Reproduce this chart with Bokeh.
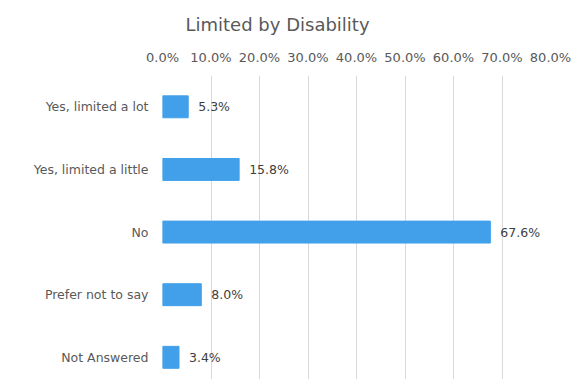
from bokeh.plotting import figure
from bokeh.models import ColumnDataSource, Range1d, NumeralTickFormatter, FixedTicker, LabelSet
from bokeh.core.properties import value
from bokeh.embed import file_html
from bokeh.resources import INLINE

categories = ["Yes, limited a lot", "Yes, limited a little", "No", "Prefer not to say", "Not Answered"]
values = [0.053, 0.158, 0.676, 0.080, 0.034]
labels = ["5.3%", "15.8%", "67.6%", "8.0%", "3.4%"]
ticks = [0.0, 0.1, 0.2, 0.3, 0.4, 0.5, 0.6, 0.7, 0.8]
positions = list(range(len(categories)))

src = ColumnDataSource(dict(pos=positions, cat=categories, val=values, lab=labels))

p = figure(width=574, height=379, y_range=Range1d(4.354, -0.5), x_range=Range1d(0, 0.8),
           x_axis_location="above", output_backend="svg", toolbar_location=None,
           title="Limited by Disability")
p.min_border_left = 162
p.min_border_right = 24
p.min_border_top = 75
p.min_border_bottom = 0
p.outline_line_color = None

p.title.align = "left"
p.title.offset = 23
p.title.standoff = 23
p.title.text_font = "DejaVu Sans"
p.title.text_font_size = "18px"
p.title.text_font_style = "normal"
p.title.text_color = "#595959"

p.hbar(y="pos", right="val", left=0, height=0.35, source=src, color="#41A0E9", line_color="#41A0E9")

p.add_layout(LabelSet(x="val", y="pos", text="lab", source=src, x_offset=10, text_baseline="middle",
                      text_font_size=value("12.5px"), text_font=value("DejaVu Sans"), text_color="#404040"))

p.xaxis.ticker = FixedTicker(ticks=ticks)
p.xaxis.formatter = NumeralTickFormatter(format="0.0%")
p.yaxis.ticker = FixedTicker(ticks=positions)
p.yaxis.major_label_overrides = {i: c for i, c in zip(positions, categories)}
for ax in (p.xaxis[0], p.yaxis[0]):
    ax.axis_line_color = None
    ax.major_tick_line_color = None
    ax.minor_tick_line_color = None
    ax.major_label_text_font = "DejaVu Sans"
    ax.major_label_text_color = "#595959"
p.xaxis.major_label_text_font_size = "13px"
p.yaxis.major_label_text_font_size = "12.5px"
p.xaxis.major_label_standoff = 5
p.yaxis.major_label_standoff = 8

p.xgrid.grid_line_color = "#D9D9D9"
p.ygrid.grid_line_color = None

open("out.html", "w").write(file_html(p, INLINE))
